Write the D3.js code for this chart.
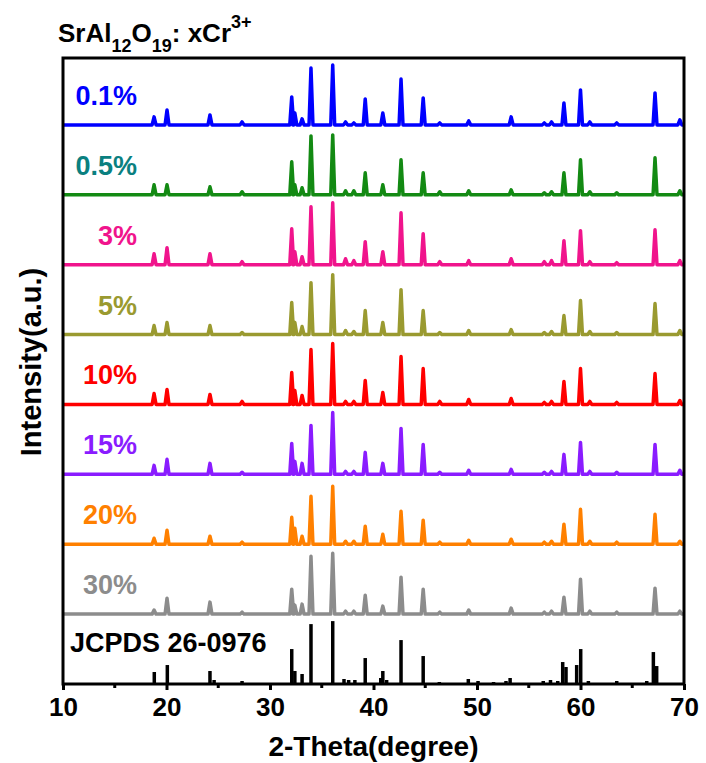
<!DOCTYPE html>
<html>
<head>
<meta charset="utf-8">
<script src="https://cdn.jsdelivr.net/npm/d3@7"></script>
<style>
  body { margin: 0; background: #fff; }
  svg text { font-family: "Liberation Sans", Arial, sans-serif; font-weight: bold; }
</style>
</head>
<body>
<div id="chart"></div>
<script>
// Peak positions (2-theta) shared by all measured patterns
var peakPos = [18.8, 20.05, 24.2, 27.3, 32.1, 32.4, 33.1, 33.96, 36.06, 37.3, 38.1, 39.2, 40.9,
    42.66, 44.8, 46.4, 49.2, 53.3, 56.5, 57.2, 58.4, 60.0, 60.9, 63.5, 67.2, 69.6];

// Samples, top to bottom
var samples = ["0.1%", "0.5%", "3%", "5%", "10%", "15%", "20%", "30%"];
var lineColors = ["#0000ff", "#138a13", "#f0148c", "#9a9a30", "#ff0000", "#8a1cff", "#ff8000", "#8c8c8c"];
var labelColors = ["#0000ff", "#0a8080", "#f0148c", "#9a9a30", "#ff0000", "#8a1cff", "#ff8000", "#8c8c8c"];

// Peak intensities (a.u.) for each sample, same order as peakPos
var h01 = [8, 15, 10, 3, 28, 12, 6, 57, 60, 3, 2, 26, 12, 46, 27, 2, 4, 8, 2, 3, 22, 35, 3, 2, 32, 5];
var h05 = [10, 10, 8, 3, 33, 10, 7, 59, 60, 4, 4, 22, 10, 35, 22, 3, 4, 5, 2, 3, 22, 35, 3, 2, 37, 4];
var h3 = [11, 17, 11, 3, 36, 13, 8, 58, 62, 6, 4, 23, 13, 52, 31, 3, 4, 6, 3, 4, 24, 34, 3, 2, 35, 4];
var h5 = [9, 12, 9, 2, 32, 12, 8, 52, 60, 4, 3, 24, 12, 45, 24, 2, 4, 5, 2, 3, 19, 34, 3, 2, 31, 4];
var h10 = [11, 15, 10, 3, 32, 14, 9, 55, 61, 3, 3, 24, 12, 48, 36, 3, 5, 6, 2, 3, 23, 36, 3, 2, 31, 4];
var h15 = [9, 15, 11, 2, 31, 13, 11, 49, 62, 3, 3, 22, 11, 46, 30, 2, 4, 5, 2, 3, 20, 32, 3, 2, 30, 4];
var h20 = [6, 14, 8, 2, 27, 16, 8, 48, 58, 3, 3, 18, 10, 33, 24, 2, 4, 5, 2, 3, 20, 35, 3, 2, 30, 3];
var h30 = [4, 16, 12, 2, 25, 9, 10, 58, 61, 3, 3, 19, 8, 37, 25, 2, 4, 6, 2, 3, 17, 35, 3, 2, 26, 3];
var heights = [h01, h05, h3, h5, h10, h15, h20, h30];

// JCPDS 26-0976 reference lines
var refPos = [18.82, 20.08, 24.2, 24.6, 27.3, 32.1, 32.4, 33.1, 33.96, 36.06, 37.15, 37.6, 38.2, 39.2,
    40.7, 40.9, 41.27, 42.66, 44.8, 46.36, 49.16, 50.1, 51.6, 52.8, 53.2, 56.4, 57.1, 57.8, 58.28, 58.6,
    59.63, 60.02, 60.76, 63.5, 66.4, 67.04, 67.36];
var refInt = [12, 19, 13, 4, 3, 35, 13, 10, 60, 63, 5, 4, 4, 26, 6, 13, 4, 44, 28, 2, 5, 3, 2, 3, 6, 3, 4,
    3, 22, 17, 19, 35, 3, 3, 3, 32, 18];

var xTicks = [10, 20, 30, 40, 50, 60, 70];
var xMinor = [15, 25, 35, 45, 55, 65];
var offsetStep = 70;

var width = 706, height = 763;
var margin = { top: 58, right: 22, bottom: 79, left: 63 };

var svg = d3.select("#chart").append("svg")
    .attr("width", width)
    .attr("height", height);

var xScale = d3.scaleLinear()
    .domain([10, 70])
    .range([margin.left, width - margin.right]);

var yScale = d3.scaleLinear()
    .domain([0, 627])
    .range([height - margin.bottom, margin.top]);

// Turn a peak list into the vertices of the pattern
function patternPoints(hs) {
    var hw = 0.19;
    var pts = [{ x: 10, y: 0 }];
    for (var i = 0; i < peakPos.length; i++) {
        pts.push({ x: peakPos[i] - hw, y: 0 });
        pts.push({ x: peakPos[i], y: hs[i] });
        pts.push({ x: peakPos[i] + hw, y: 0 });
    }
    pts.push({ x: 70, y: 0 });
    return pts;
}

// Draw from bottom up so upper patterns sit on top
for (var s = samples.length - 1; s >= 0; s--) {
    var base = (samples.length - s) * offsetStep;
    var lineFunc = d3.line()
        .x(function (d) { return xScale(d.x); })
        .y(function (d) { return yScale(d.y + base); });

    svg.append("path")
        .attr("d", lineFunc(patternPoints(heights[s])))
        .attr("fill", "none")
        .attr("stroke", lineColors[s])
        .attr("stroke-width", 3.5)
        .attr("stroke-linejoin", "round");

    svg.append("text")
        .attr("x", 137)
        .attr("y", yScale(base + 20))
        .attr("text-anchor", "end")
        .attr("font-size", 27)
        .attr("fill", labelColors[s])
        .text(samples[s]);
}

// Reference sticks
svg.selectAll("line.ref")
    .data(refPos)
    .enter().append("line")
    .attr("class", "ref")
    .attr("x1", function (d) { return xScale(d); })
    .attr("x2", function (d) { return xScale(d); })
    .attr("y1", yScale(0))
    .attr("y2", function (d, i) { return yScale(refInt[i]); })
    .attr("stroke", "#000")
    .attr("stroke-width", 3.5);

svg.append("text")
    .attr("x", 70)
    .attr("y", 652)
    .attr("font-size", 27)
    .text("JCPDS 26-0976");

// Frame
svg.append("rect")
    .attr("x", xScale(10))
    .attr("y", margin.top)
    .attr("width", xScale(70) - xScale(10))
    .attr("height", yScale(0) - margin.top)
    .attr("fill", "none")
    .attr("stroke", "#000")
    .attr("stroke-width", 3);

// Bottom axis
var xAxisGen = d3.axisBottom(xScale)
    .tickValues(xTicks)
    .tickSize(6)
    .tickPadding(8)
    .tickFormat(d3.format("d"));

var xAxis = svg.append("g")
    .attr("transform", "translate(0," + yScale(0) + ")")
    .call(xAxisGen);
xAxis.select(".domain").remove();
xAxis.selectAll("line").attr("stroke-width", 3);
xAxis.selectAll("text")
    .attr("font-size", 26)
    .attr("fill", "#000")
    .style("font-family", "'Liberation Sans', Arial, sans-serif")
    .style("font-weight", "bold");

svg.selectAll("line.minor")
    .data(xMinor)
    .enter().append("line")
    .attr("class", "minor")
    .attr("x1", function (d) { return xScale(d); })
    .attr("x2", function (d) { return xScale(d); })
    .attr("y1", yScale(0))
    .attr("y2", yScale(0) + 4)
    .attr("stroke", "#000")
    .attr("stroke-width", 3);

// Axis titles
svg.append("text")
    .attr("x", (xScale(10) + xScale(70)) / 2)
    .attr("y", 756)
    .attr("text-anchor", "middle")
    .attr("font-size", 28)
    .text("2-Theta(degree)");

svg.append("text")
    .attr("transform", "translate(41,362) rotate(-90)")
    .attr("text-anchor", "middle")
    .attr("font-size", 29)
    .text("Intensity(a.u.)");

// Title with sub/superscripts
var title = svg.append("text")
    .attr("x", 58)
    .attr("y", 42)
    .attr("font-size", 26);
title.append("tspan").text("SrAl");
title.append("tspan").attr("font-size", 18).attr("dy", 10).text("12");
title.append("tspan").attr("dy", -10).text("O");
title.append("tspan").attr("font-size", 18).attr("dy", 10).text("19");
title.append("tspan").attr("dy", -10).text(": xCr");
title.append("tspan").attr("font-size", 18).attr("dy", -14).text("3+");
</script>
</body>
</html>
